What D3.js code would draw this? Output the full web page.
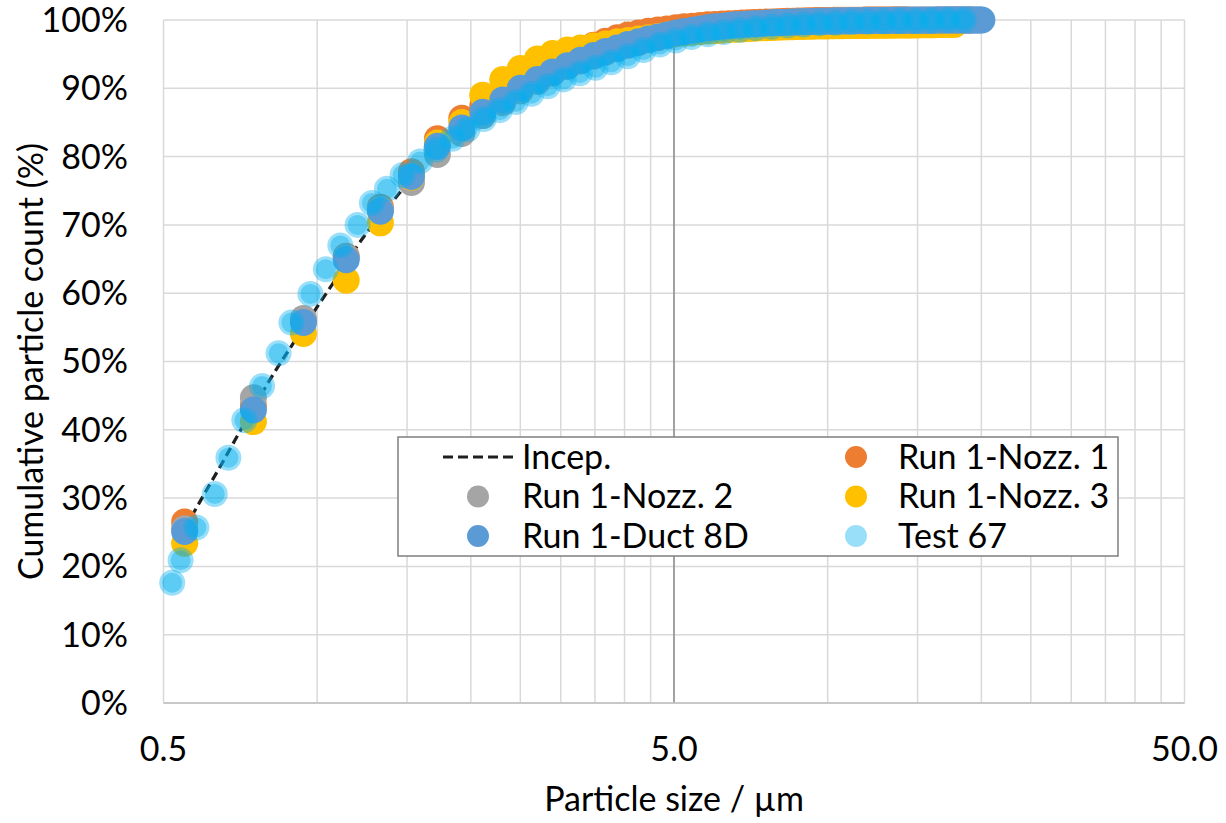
<!DOCTYPE html>
<html><head><meta charset="utf-8">
<script src="https://cdn.jsdelivr.net/npm/d3@7"></script>
<style>
body{margin:0;background:#fff}
svg{display:block}
text{font-family:Lato,"Open Sans",sans-serif;fill:#000}
</style>
</head><body>
<svg id="chart" width="1226" height="823"></svg>
<script>
// ---------- data ----------
const binSizes = [0.55,0.75,0.94,1.14,1.33,1.53,1.72,1.92,2.11,2.31,
2.50,2.70,2.89,3.09,3.28,3.48,3.67,3.87,4.06,4.26,
4.45,4.65,4.84,5.04,5.23,5.43,5.62,5.82,6.01,6.21,
6.40,6.60,6.79,6.99,7.18,7.38,7.57,7.77,7.96,8.16,
8.35,8.55,8.74,8.94,9.13,9.33,9.52,9.72,9.91,10.11,
10.30,10.50,10.69,10.89,11.08,11.28,11.47,11.67,11.86,12.06,
12.25,12.45,12.64,12.84,13.03,13.23,13.42,13.62,13.81,14.01,
14.20,14.40,14.59,14.79,14.98,15.18,15.37,15.57,15.76,15.96,
16.15,16.35,16.54,16.74,16.93,17.13,17.32,17.52,17.71,17.91,
18.10,18.30,18.49,18.69,18.88,19.08,19.27,19.47,19.66,19.86,20.05];

const nozz1Pct = [26.5,43.5,56.0,65.4,72.6,77.8,82.6,85.6,87.4,89.4,
91.0,92.4,93.6,94.7,95.6,96.3,96.9,97.4,97.8,98.1,
98.35,98.55,98.7,98.85,99.0,99.1,99.2,99.3,99.35,99.4,
99.45,99.5,99.55,99.6,99.63,99.66,99.69,99.72,99.75,99.78,
99.8,99.82,99.84,99.86,99.88,99.9,99.91,99.92,99.93,99.94,
99.95,99.95,99.96,99.96,99.97,99.97,99.98,99.98,99.99,99.99,
100,100,100,100,100,100,100,100,100,100,100];

const nozz2Pct = [25.5,44.7,56.3,65.3,72.3,76.2,80.3,83.4,86.0,87.9,
89.6,91.0,92.2,93.2,94.0,94.7,95.3,95.8,96.3,96.7,
97.1,97.4,97.7,98.0,98.25,98.45,98.65,98.8,98.95,99.05,
99.15,99.25,99.3,99.35,99.4,99.45,99.5,99.55,99.6,99.63,
99.66,99.69,99.72,99.75,99.77,99.79,99.81,99.83,99.85,99.86,
99.87,99.88,99.89,99.9,99.91,99.92,99.93,99.94,99.95,99.95,
99.96,99.96,99.97,99.97,99.98,99.98,99.98,99.99,99.99,99.99,
100,100,100,100,100,100,100,100,100,100,
100,100,100,100,100,100,100,100,100,100,
100,100,100,100,100,100];

const nozz3Pct = [23.4,41.2,54.1,61.9,70.3,77.0,82.0,85.0,89.0,91.3,
92.9,94.3,95.1,95.6,95.9,96.2,96.5,96.8,97.0,97.2,
97.4,97.6,97.8,98.0,98.1,98.2,98.3,98.4,98.45,98.5,
98.6,98.65,98.7,98.75,98.8,98.85,98.88,98.91,98.94,98.97,
99.0,99.02,99.04,99.06,99.08,99.1,99.11,99.12,99.13,99.14,
99.15,99.16,99.17,99.18,99.19,99.2,99.2,99.21,99.21,99.22,
99.22,99.23,99.23,99.24,99.24,99.25,99.25,99.26,99.26,99.27,
99.27,99.28,99.28,99.29,99.29,99.3,99.3,99.31,99.31,99.32,
99.32,99.33,99.33,99.34,99.34,99.35,99.35,99.36,99.36];

const duct8DPct = [25.1,42.9,55.7,64.9,72.0,77.1,81.5,84.2,86.5,88.3,
90.0,91.3,92.4,93.3,94.1,94.8,95.4,95.9,96.4,96.8,
97.2,97.5,97.8,98.1,98.3,98.5,98.7,98.85,99.0,99.1,
99.2,99.3,99.35,99.4,99.45,99.5,99.55,99.6,99.62,99.65,
99.68,99.7,99.72,99.74,99.76,99.78,99.8,99.81,99.82,99.83,
99.84,99.85,99.86,99.87,99.88,99.89,99.9,99.9,99.91,99.91,
99.92,99.92,99.93,99.93,99.94,99.94,99.95,99.95,99.95,99.96,
99.96,99.96,99.97,99.97,99.97,99.97,99.98,99.98,99.98,99.98,
99.98,99.99,99.99,99.99,99.99,99.99,99.99,99.99,100,100,
100,100,100,100,100,100,100,100,100,100,100];

const test67Size = [0.52,0.54,0.58,0.63,0.67,0.72,0.78,0.84,0.89,0.97,
1.04,1.11,1.20,1.28,1.37,1.47,1.59,1.71,1.84,1.97,
2.12,2.28,2.45,2.63,2.83,3.04,3.27,3.51,3.77,4.06,
4.36,4.69,5.04,5.41,5.82,6.26,6.72,7.23,7.77,8.35,
8.97,9.64,10.36,11.14,11.97,12.87,13.83,14.87,15.98,17.18,18.46];
const test67Pct = [17.6,20.9,25.7,30.6,35.9,41.4,46.4,51.2,55.7,59.9,
63.5,67.0,70.0,73.2,75.3,77.3,79.3,81.0,82.6,84.0,
85.5,86.8,88.0,89.2,90.3,91.3,92.2,93.0,93.8,94.7,
95.6,96.4,97.0,97.5,97.9,98.25,98.55,98.8,99.0,99.2,
99.35,99.5,99.6,99.7,99.75,99.8,99.85,99.9,99.95,100,100];

const incepSize = [0.55,0.6,0.65,0.7,0.75,0.8,0.9,1.0,1.1,1.2,1.3,1.4,1.5,1.6];
const incepPct  = [25.5,30.5,35.0,39.3,43.2,46.8,52.8,58.0,62.6,67.0,70.5,73.3,76.0,78.4];

const yTicks = [0,10,20,30,40,50,60,70,80,90,100];
const xTickLabels = [[0.5,"0.5"],[5,"5.0"],[50,"50.0"]];
const xGrid = [0.5,1,1.5,2,2.5,3,3.5,4,4.5,5,10,15,20,25,30,35,40,45,50];

const seriesNames = ["Incep.","Run 1-Nozz. 1","Run 1-Nozz. 2","Run 1-Nozz. 3","Run 1-Duct 8D","Test 67"];
const colors = {"Run 1-Nozz. 1":"#ED7D31","Run 1-Nozz. 2":"#A5A5A5","Run 1-Nozz. 3":"#FFC000","Run 1-Duct 8D":"#5B9BD5","Test 67":"#00B0F0"};

// ---------- chart ----------
const svg = d3.select("#chart");
const L = 163.5, R = 1184.5, T = 20, B = 703;
const x = d3.scaleLog().domain([0.5,50]).range([L,R]);
const y = d3.scaleLinear().domain([0,100]).range([B,T]);
const FONT = 34;

// grid
const grid = svg.append("g");
grid.selectAll("line.h").data(yTicks).join("line")
  .attr("x1",L).attr("x2",R).attr("y1",d=>y(d)).attr("y2",d=>y(d))
  .attr("stroke","#D9D9D9").attr("stroke-width",1.5);
grid.selectAll("line.v").data(xGrid).join("line")
  .attr("x1",d=>x(d)).attr("x2",d=>x(d)).attr("y1",T).attr("y2",B)
  .attr("stroke","#D9D9D9").attr("stroke-width",1.5);
// vertical axis crossing at 5
svg.append("line").attr("x1",x(5)).attr("x2",x(5)).attr("y1",T).attr("y2",B)
  .attr("stroke","#7F7F7F").attr("stroke-width",1.3);
// bottom axis line
svg.append("line").attr("x1",L).attr("x2",R).attr("y1",B).attr("y2",B)
  .attr("stroke","#BFBFBF").attr("stroke-width",1.5);

// y tick labels
svg.append("g").selectAll("text").data(yTicks).join("text")
  .attr("x",128).attr("y",d=>y(d)).attr("dy","0.35em")
  .attr("text-anchor","end").attr("font-size",FONT).text(d=>d+"%");
// x tick labels
svg.append("g").selectAll("text").data(xTickLabels).join("text")
  .attr("x",d=>x(d[0])).attr("y",761).attr("text-anchor","middle")
  .attr("font-size",FONT).text(d=>d[1]);
// axis titles
svg.append("text").attr("x",(L+R)/2).attr("y",811).attr("text-anchor","middle")
  .attr("font-size",FONT).text("Particle size / µm");
svg.append("text").attr("transform",`translate(31,${(T+B)/2}) rotate(-90)`)
  .attr("dy","0.35em").attr("text-anchor","middle")
  .attr("font-size",FONT).text("Cumulative particle count (%)");

// Incep. line
const incep = incepSize.map((s,i)=>[s,incepPct[i]]);
svg.append("path").datum(incep)
  .attr("d",d3.line().x(d=>x(d[0])).y(d=>y(d[1])).curve(d3.curveMonotoneX))
  .attr("fill","none").attr("stroke","#1F1F1F").attr("stroke-width",3.2)
  .attr("stroke-dasharray","9,5");

// scatter series
function scatter(sizes, pcts, color){
  const pts = pcts.map((p,i)=>[sizes[i],p]);
  svg.append("g").selectAll("circle").data(pts).join("circle")
    .attr("cx",d=>x(d[0])).attr("cy",d=>y(d[1])).attr("r",13.5)
    .attr("fill",color);
}
scatter(binSizes, nozz1Pct, colors["Run 1-Nozz. 1"]);
scatter(binSizes, nozz2Pct, colors["Run 1-Nozz. 2"]);
scatter(binSizes, nozz3Pct, colors["Run 1-Nozz. 3"]);
scatter(binSizes, duct8DPct, colors["Run 1-Duct 8D"]);
// Test 67: semi-transparent with border
const t67 = test67Pct.map((p,i)=>[test67Size[i],p]);
const gT = svg.append("g");
gT.selectAll("circle.o").data(t67).join("circle")
  .attr("cx",d=>x(d[0])).attr("cy",d=>y(d[1])).attr("r",13)
  .attr("fill",colors["Test 67"]).attr("fill-opacity",0.4);
gT.selectAll("circle.i").data(t67).join("circle")
  .attr("cx",d=>x(d[0])).attr("cy",d=>y(d[1])).attr("r",10)
  .attr("fill",colors["Test 67"]).attr("fill-opacity",0.4);

// legend
const lg = svg.append("g");
lg.append("rect").attr("x",398).attr("y",437).attr("width",720).attr("height",119)
  .attr("fill","#fff").attr("stroke","#7F7F7F").attr("stroke-width",1.5);
const legendItems = [
  {name:seriesNames[0], col:0,row:0},
  {name:seriesNames[1], col:1,row:0},
  {name:seriesNames[2], col:0,row:1},
  {name:seriesNames[3], col:1,row:1},
  {name:seriesNames[4], col:0,row:2},
  {name:seriesNames[5], col:1,row:2}
];
const colMarker=[478,856], colText=[522,898], rowY=[457,496.5,536];
legendItems.forEach(it=>{
  const cy=rowY[it.row];
  if(it.name==="Incep."){
    lg.append("line").attr("x1",443).attr("x2",514).attr("y1",cy).attr("y2",cy)
      .attr("stroke","#1F1F1F").attr("stroke-width",3.2).attr("stroke-dasharray","10,5");
  } else {
    lg.append("circle").attr("cx",colMarker[it.col]).attr("cy",cy).attr("r",11)
      .attr("fill",colors[it.name]).attr("fill-opacity",it.name==="Test 67"?0.4:1);
  }
  lg.append("text").attr("x",colText[it.col]).attr("y",cy).attr("dy","0.35em")
    .attr("font-size",FONT).text(it.name);
});
</script>
</body></html>
